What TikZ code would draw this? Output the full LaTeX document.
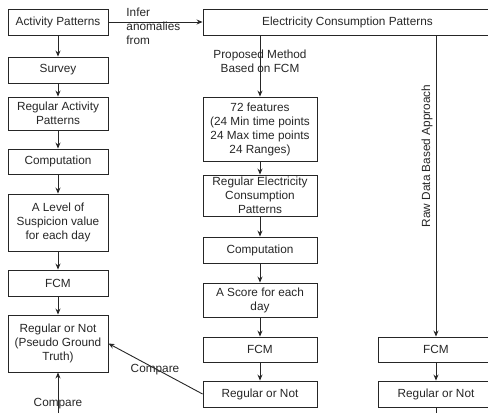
\documentclass[tikz,border=0pt]{standalone}
\usepackage{fontspec}
\setmainfont{Liberation Sans}
\usetikzlibrary{arrows.meta}

\tikzset{
  box/.style={draw=black!85, line width=0.9pt, align=center, inner sep=1pt},
  lbl/.style={align=center, inner sep=0pt},
}

\begin{document}
\begin{tikzpicture}[>={Stealth[length=6pt, width=5pt]}, line width=0.9pt, draw=black!85, x=1pt, y=-1pt,
    every node/.style={font=\fontsize{11.8}{14}\selectfont, text=black!85}]
  \useasboundingbox (0,0) rectangle (488,413);

  % === left column: activity ===
  \node[box, minimum width=100pt, minimum height=26pt] (act) at (58,22) {Activity Patterns};
  \node[box, minimum width=100pt, minimum height=26pt] (survey) at (58,70) {Survey};
  \node[box, minimum width=100pt, minimum height=33pt] (regact) at (58,113.5) {Regular Activity\\Patterns};
  \node[box, minimum width=100pt, minimum height=25pt] (comp1) at (58,161.5) {Computation};
  \node[box, minimum width=100pt, minimum height=57pt] (level) at (58,222.5) {A Level of\\Suspicion value\\for each day};
  \node[box, minimum width=100pt, minimum height=26pt] (fcm1) at (58,283) {FCM};
  \node[box, minimum width=100pt, minimum height=57pt] (pseudo) at (58,343.5) {Regular or Not\\(Pseudo Ground\\Truth)};

  \draw[->] (act) -- (survey);
  \draw[->] (survey) -- (regact);
  \draw[->] (regact) -- (comp1);
  \draw[->] (comp1) -- (level);
  \draw[->] (level) -- (fcm1);
  \draw[->] (fcm1) -- (pseudo);

  % === top: consumption ===
  \node[box, minimum width=289pt, minimum height=26pt] (elec) at (347.5,22) {Electricity Consumption Patterns};
  \draw[->] (act) -- (elec);
  \node[lbl, align=left, anchor=west] (infer) at (126,26) {Infer\\anomalies\\from};

  % === middle column: proposed method ===
  \node[box, minimum width=114pt, minimum height=64pt] (feat) at (260,129) {72 features\\(24 Min time points\\24 Max time points\\24 Ranges)};
  \node[box, minimum width=114pt, minimum height=41pt] (regel) at (260,195.5) {Regular Electricity\\Consumption\\Patterns};
  \node[box, minimum width=114pt, minimum height=26pt] (comp2) at (260,250) {Computation};
  \node[box, minimum width=114pt, minimum height=34pt] (score) at (260,300) {A Score for each\\day};
  \node[box, minimum width=114pt, minimum height=25pt] (fcm2) at (260,349.5) {FCM};
  \node[box, minimum width=114pt, minimum height=26pt] (reg2) at (260,394) {Regular or Not};

  \draw[->] (elec.south -| feat.north) -- (feat.north);
  \node[lbl] (proposed) at (260,61.5) {Proposed Method\\Based on FCM};
  \draw[->] (feat) -- (regel);
  \draw[->] (regel) -- (comp2);
  \draw[->] (comp2) -- (score);
  \draw[->] (score) -- (fcm2);
  \draw[->] (fcm2) -- (reg2);

  % === right column: raw data ===
  \node[box, minimum width=116pt, minimum height=25pt] (fcm3) at (436,349.5) {FCM};
  \node[box, minimum width=116pt, minimum height=26pt] (reg3) at (436,394) {Regular or Not};
  \coordinate (rawend) at (436,413);

  \draw[->] (elec.south -| fcm3.north) -- (fcm3.north);
  \node[lbl, rotate=90] (raw) at (427,156) {Raw Data Based Approach};
  \draw[->] (fcm3) -- (reg3);
  \draw (reg3) -- (rawend);

  % === comparisons ===
  \draw[->] (reg2.west) -- (pseudo.east);
  \node[lbl] (cmp1) at (155,370) {Compare};
  \coordinate (cmpstart) at (58,413);
  \draw[->] (cmpstart) -- (pseudo.south);
  \node[lbl] (cmp2) at (58,404) {Compare};
\end{tikzpicture}
\end{document}
